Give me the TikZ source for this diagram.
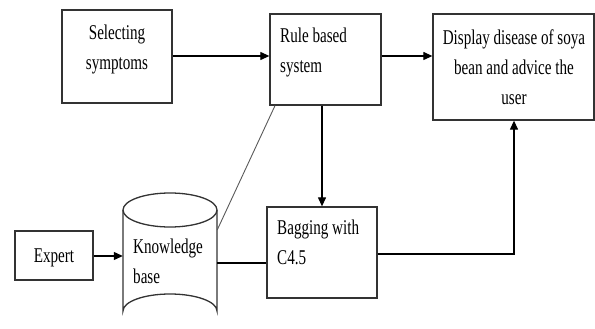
\documentclass[tikz,border=0pt]{standalone}
\usepackage{fontspec}
\setmainfont[FakeStretch=0.72]{Liberation Serif}
\usetikzlibrary{arrows.meta}
\tikzset{
  boxline/.style={draw=black!80, line width=1.3pt},
  box/.style={boxline, rectangle, inner sep=0pt},
  txt/.style={inner sep=0pt, font=\fontsize{21}{30}\selectfont, text=black},
  conn/.style={draw=black, line width=1.2pt},
  arr/.style={conn, -{Triangle[length=9pt,width=8pt]}},
  thin/.style={draw=black!65, line width=0.9pt}
}
\begin{document}
\begin{tikzpicture}[x=1pt,y=-1pt]
\useasboundingbox (0,0) rectangle (595,329);
% boxes
\node[box, minimum width=110pt, minimum height=93pt] (sel) at (117,56.5) {};
\node[box, minimum width=111pt, minimum height=91pt] (rule) at (325.5,59.5) {};
\node[box, minimum width=161pt, minimum height=106pt] (disp) at (513.5,67) {};
\node[box, minimum width=110pt, minimum height=91pt] (bag) at (322,252.5) {};
\node[box, minimum width=78pt, minimum height=49pt] (expert) at (54,255.5) {};
% cylinder
\draw[boxline] (123,210) -- (123,311) arc[start angle=180, end angle=360, x radius=47, y radius=17] -- (217,210);
\draw[boxline] (170,210) ellipse[x radius=47, y radius=17];
\node[inner sep=0pt, minimum width=94pt, minimum height=118pt] (kb) at (170,269) {};
% texts (base anchor = baseline of last line)
\node[txt, align=center, anchor=base] (selT) at (117,70) {Selecting\\symptoms};
\node[txt, align=left, anchor=base west] (ruleT) at (280,73) {Rule based\\system};
\node[txt, align=center, anchor=base] (dispT) at (514,105) {Display disease of soya\\bean and advice the\\user};
\node[txt, align=left, anchor=base west] (bagT) at (277,264) {Bagging with\\C4.5};
\node[txt, anchor=base] (expT) at (54,262) {Expert};
\node[txt, align=left, anchor=base west] (kbT) at (133,283) {Knowledge\\base};
% connectors
\coordinate (bagcorner) at (514,254);
\draw[arr] (sel.east |- 0,56) -- (rule.west |- 0,56);
\draw[arr] (rule.east |- 0,56) -- (disp.west |- 0,56);
\draw[arr] (rule.south -| 322,0) -- (bag.north -| 322,0);
\draw[arr] (bag.east |- bagcorner) -- (bagcorner) -- (disp.south -| bagcorner);
\draw[arr] (expert.east |- 0,256) -- (kb.west |- 0,256);
\draw[thin] (kb.east |- 0,230) -- (rule.south -| 275,0);
\draw[conn] (kb.east |- 0,263) -- (bag.west |- 0,263);
\end{tikzpicture}
\end{document}
